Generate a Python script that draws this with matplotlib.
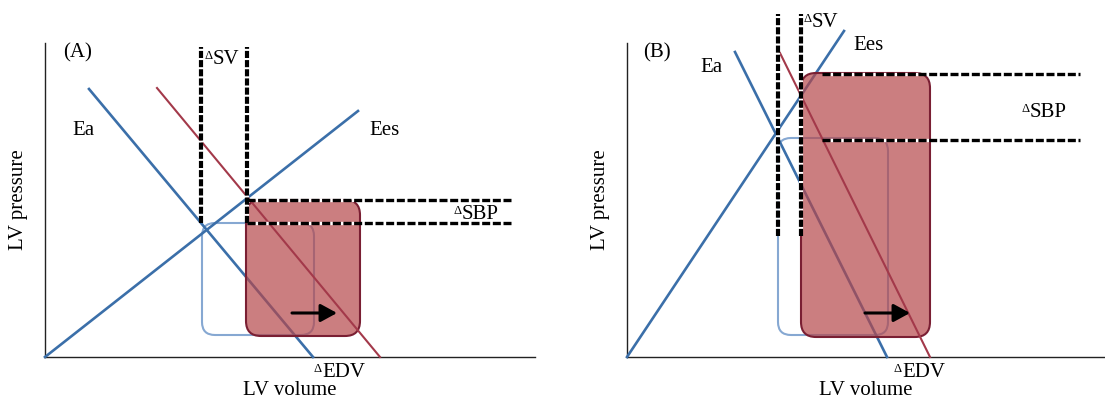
import matplotlib.pyplot as plt
from matplotlib.patches import FancyBboxPatch

plt.rcParams['font.family'] = ['Liberation Serif', 'DejaVu Serif']

# schematic units (volume, pressure), origin at the axes corner
# --------------------------------------------------------------------
# Panel A
# --------------------------------------------------------------------
a_vol_max, a_pres_max = 490, 314
a_ees_v, a_ees_p = [0, 313], [0, 246]
a_ea_v, a_ea_p = [44, 268], [268, 0]
a_ea2_v, a_ea2_p = [112, 335], [269, 0]
a_esv = [156, 202]            # end-systolic volume, before / after
a_esv_p = [134, 310]          # pressure span of the SV markers
a_sbp = [134, 157]            # systolic pressure, before / after
a_sbp_v = [202, 468]          # volume span of the SBP markers
a_loop_old = [157, 22, 269, 134]   # v0, p0, v1, p1
a_loop_new = [201, 21, 315, 157]
a_arrow_v, a_arrow_p = [247, 292], 44

# --------------------------------------------------------------------
# Panel B
# --------------------------------------------------------------------
b_vol_max, b_pres_max = 478, 314
b_ees_v, b_ees_p = [0, 217], [0, 326]
b_ea_v, b_ea_p = [108, 260], [305, 0]
b_ea2_v, b_ea2_p = [153, 303], [304, 0]
b_esv = [151, 174]
b_esv_p = [121, 343]
b_sbp = [217, 283]
b_sbp_v = [195, 453]
b_loop_old = [151, 22, 261, 219]
b_loop_new = [174, 20, 303, 284]
b_arrow_v, b_arrow_p = [238, 283], 44

BLUE = '#3b6fa9'
RED_LINE = '#a3394a'
LOOP_OLD = '#86a8d2'
LOOP_FILL = '#b5484b'
LOOP_EDGE = '#7a1f33'
FS = 15


def draw_panel(ax, vmax, pmax, ees, ea, ea2, esv, esv_p, sbp, sbp_v,
               loop_old, loop_new, arrow_v, arrow_p, labels, deltas):
    ax.set_xlim(0, vmax)
    ax.set_ylim(0, pmax)
    for s in ['top', 'right']:
        ax.spines[s].set_visible(False)
    for s in ['left', 'bottom']:
        ax.spines[s].set_color('#222222')
        ax.spines[s].set_linewidth(1.0)
    ax.set_xticks([])
    ax.set_yticks([])

    # old loop (outline only)
    v0, p0, v1, p1 = loop_old
    ax.add_patch(FancyBboxPatch((v0, p0), v1 - v0, p1 - p0,
                                boxstyle='round,pad=0,rounding_size=13',
                                fc='none', ec=LOOP_OLD, lw=1.5, zorder=2))

    # elastance lines
    ax.plot(ees[0], ees[1], color=BLUE, lw=1.9, clip_on=False, zorder=3)
    ax.plot(ea[0], ea[1], color=BLUE, lw=1.9, clip_on=False, zorder=3)

    # new loop
    v0, p0, v1, p1 = loop_new
    ax.add_patch(FancyBboxPatch((v0, p0), v1 - v0, p1 - p0,
                                boxstyle='round,pad=0,rounding_size=15',
                                fc=LOOP_FILL, alpha=0.7, ec='none', zorder=4))
    ax.add_patch(FancyBboxPatch((v0, p0), v1 - v0, p1 - p0,
                                boxstyle='round,pad=0,rounding_size=15',
                                fc='none', ec=LOOP_EDGE, lw=1.5, zorder=4))

    ax.plot(ea2[0], ea2[1], color=RED_LINE, lw=1.5, clip_on=False, zorder=5)

    # SV / SBP markers
    for v in esv:
        ax.plot([v, v], esv_p, color='black', lw=3.0, dashes=(1.7, 0.5),
                gapcolor='white', clip_on=False, zorder=6)
    for p in sbp:
        ax.plot(sbp_v, [p, p], color='black', lw=2.4, dashes=(2.4, 0.8),
                gapcolor='white', clip_on=False, zorder=6)

    ax.annotate('', xy=(arrow_v[1], arrow_p), xytext=(arrow_v[0], arrow_p),
                arrowprops=dict(arrowstyle='-|>,head_length=0.55,head_width=0.3',
                                color='black', lw=2.2, mutation_scale=18,
                                shrinkA=0, shrinkB=0), zorder=7)

    for txt, (x, y) in labels.items():
        ax.text(x, y, txt, fontsize=FS, ha='center', va='baseline',
                clip_on=False, zorder=8)
    # delta-prefixed labels: small raised delta sign, then the text
    for txt, (x, y) in deltas.items():
        ax.text(x, y, txt, fontsize=FS, ha='left', va='baseline',
                clip_on=False, zorder=8)
        ax.text(x, y + 5, '\u0394', fontsize=9, ha='right', va='baseline',
                clip_on=False, zorder=8)

    ax.set_xlabel('LV volume', fontsize=FS)
    ax.set_ylabel('LV pressure', fontsize=FS)
    ax.xaxis.set_label_coords(0.5, -24 / pmax)
    ax.yaxis.set_label_coords(-17 / vmax, 0.5)


fig = plt.figure(figsize=(11.05, 3.99), dpi=100)
ax_a = fig.add_axes([45 / 1105, 42 / 399, 490 / 1105, 314 / 399])
ax_b = fig.add_axes([627 / 1105, 42 / 399, 478 / 1105, 314 / 399])

labels_a = {'(A)': (33, 300), 'Ea': (38, 222), 'Ees': (340, 222)}
deltas_a = {'SV': (168, 293), 'SBP': (417, 138), 'EDV': (277, -20)}
labels_b = {'(B)': (30, 300), 'Ea': (84, 285), 'Ees': (241, 307)}
deltas_b = {'SV': (185, 330), 'SBP': (403, 240), 'EDV': (275, -20)}

draw_panel(ax_a, a_vol_max, a_pres_max, (a_ees_v, a_ees_p), (a_ea_v, a_ea_p),
           (a_ea2_v, a_ea2_p), a_esv, a_esv_p, a_sbp, a_sbp_v,
           a_loop_old, a_loop_new, a_arrow_v, a_arrow_p, labels_a, deltas_a)
draw_panel(ax_b, b_vol_max, b_pres_max, (b_ees_v, b_ees_p), (b_ea_v, b_ea_p),
           (b_ea2_v, b_ea2_p), b_esv, b_esv_p, b_sbp, b_sbp_v,
           b_loop_old, b_loop_new, b_arrow_v, b_arrow_p, labels_b, deltas_b)

fig.savefig('out.png', dpi=100)
